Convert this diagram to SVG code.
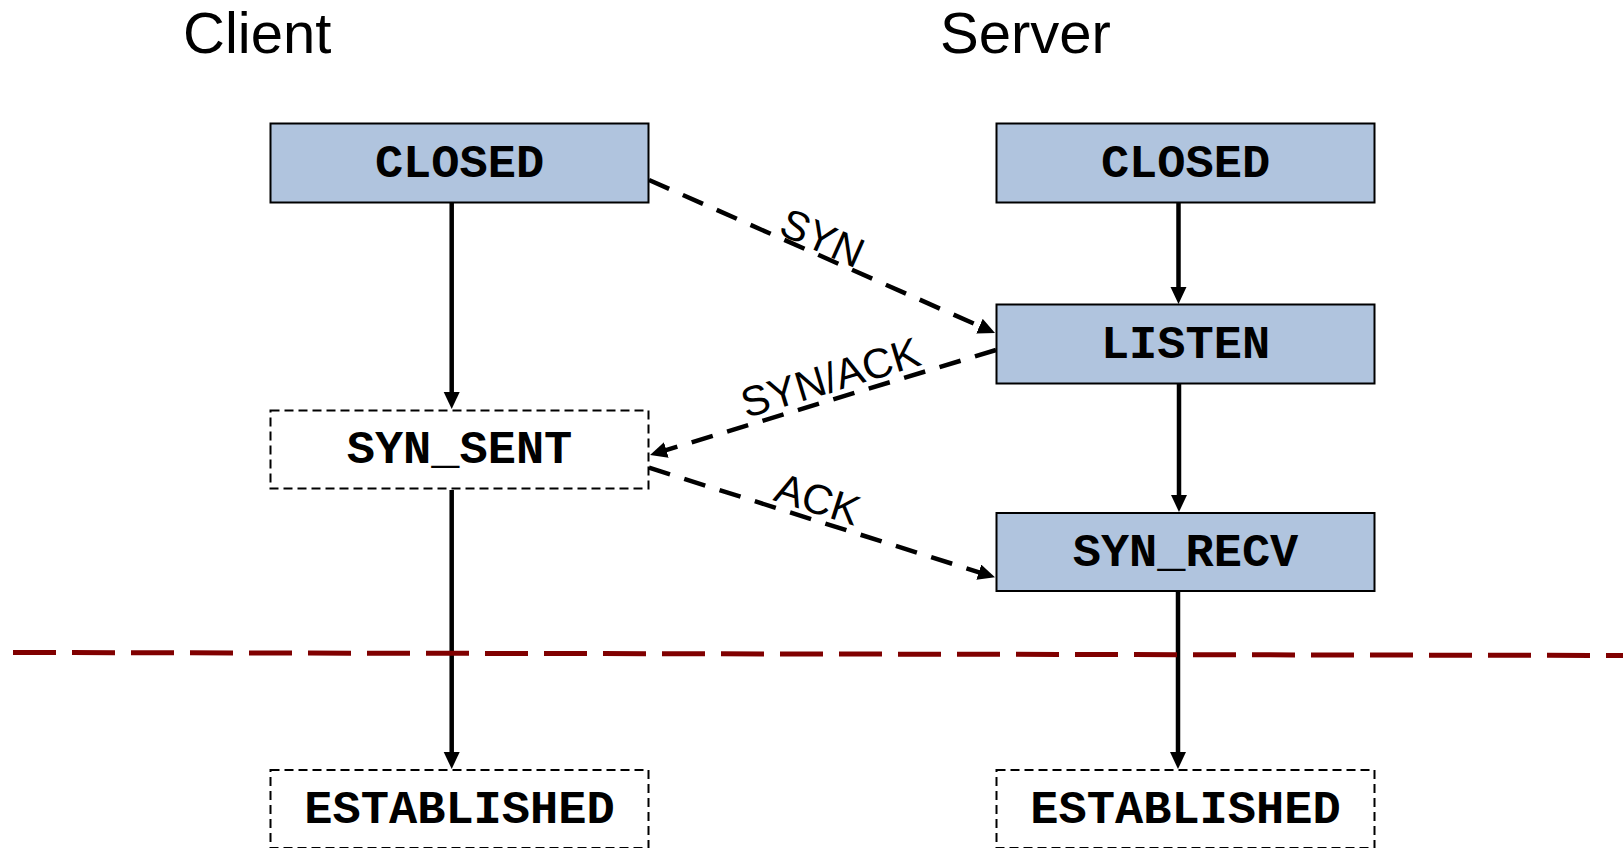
<svg xmlns="http://www.w3.org/2000/svg" width="1623" height="848" viewBox="0 0 1623 848">
<style>
.title{font-family:"Liberation Sans",Arial,sans-serif;font-size:58px;fill:#000}
.state{fill:#B0C4DE;stroke:#000;stroke-width:2}
.pending{fill:#fff;stroke:#000;stroke-width:2;stroke-dasharray:9 5}
.nt{font-family:"Courier New","Nimbus Mono PS","FreeMono","Liberation Mono",monospace;font-weight:bold;font-size:47px;fill:#000;text-anchor:middle}
.solid{fill:none;stroke:#000;stroke-width:4.5;marker-end:url(#ah)}
.msg{fill:none;stroke:#000;stroke-width:4.5;stroke-dasharray:22 15;marker-end:url(#ah)}
.lbl{font-family:"Liberation Sans",Arial,sans-serif;font-size:42px;fill:#000;text-anchor:middle}
</style>
<defs>
<marker id="ah" markerUnits="userSpaceOnUse" markerWidth="20" markerHeight="18" refX="2" refY="8" orient="auto">
<path d="M0,0 L17,8 L0,16 z" fill="#000"/>
</marker>
</defs>
<rect width="1623" height="848" fill="#fff"/>
<text class="title" x="183" y="53">Client</text>
<text class="title" x="940" y="53">Server</text>

<g id="connectors">
<path class="solid" d="M451.7,203 L451.7,394"/>
<path class="solid" d="M451.7,490 L451.7,754"/>
<path class="solid" d="M1178.5,203 L1178.5,289"/>
<path class="solid" d="M1179,384 L1179,497"/>
<path class="solid" d="M1178,592 L1178,754"/>
<path class="msg" d="M649,180 L981.3,326.9"/>
<path class="msg" d="M996,350 L664.4,450.6"/>
<path class="msg" d="M649,467.7 L980.7,572.8"/>
<text class="lbl" transform="translate(816.4,251) rotate(24)">SYN</text>
<text class="lbl" transform="translate(834.5,391.5) rotate(-16.9)">SYN/ACK</text>
<text class="lbl" transform="translate(813.3,513) rotate(17.6)">ACK</text>
</g>

<line x1="13" y1="652.5" x2="1623" y2="655.5" stroke="#800000" stroke-width="5" stroke-dasharray="43 16"/>

<g id="client-closed">
<rect class="state" x="270.5" y="123.5" width="378" height="79"/>
<text class="nt" x="459.5" y="177">CLOSED</text>
</g>
<g id="client-syn-sent">
<rect class="pending" x="270.5" y="410.5" width="378" height="78"/>
<text class="nt" x="459.5" y="463">SYN_SENT</text>
</g>
<g id="client-established">
<rect class="pending" x="270.5" y="770" width="378" height="78"/>
<text class="nt" x="459.5" y="822.5">ESTABLISHED</text>
</g>
<g id="server-closed">
<rect class="state" x="996.5" y="123.5" width="378" height="79"/>
<text class="nt" x="1185.5" y="177">CLOSED</text>
</g>
<g id="server-listen">
<rect class="state" x="996.5" y="304.5" width="378" height="79"/>
<text class="nt" x="1185.5" y="358">LISTEN</text>
</g>
<g id="server-syn-recv">
<rect class="state" x="996.5" y="513" width="378" height="78"/>
<text class="nt" x="1185.5" y="566">SYN_RECV</text>
</g>
<g id="server-established">
<rect class="pending" x="996.5" y="770" width="378" height="78"/>
<text class="nt" x="1185.5" y="822.5">ESTABLISHED</text>
</g>
</svg>
